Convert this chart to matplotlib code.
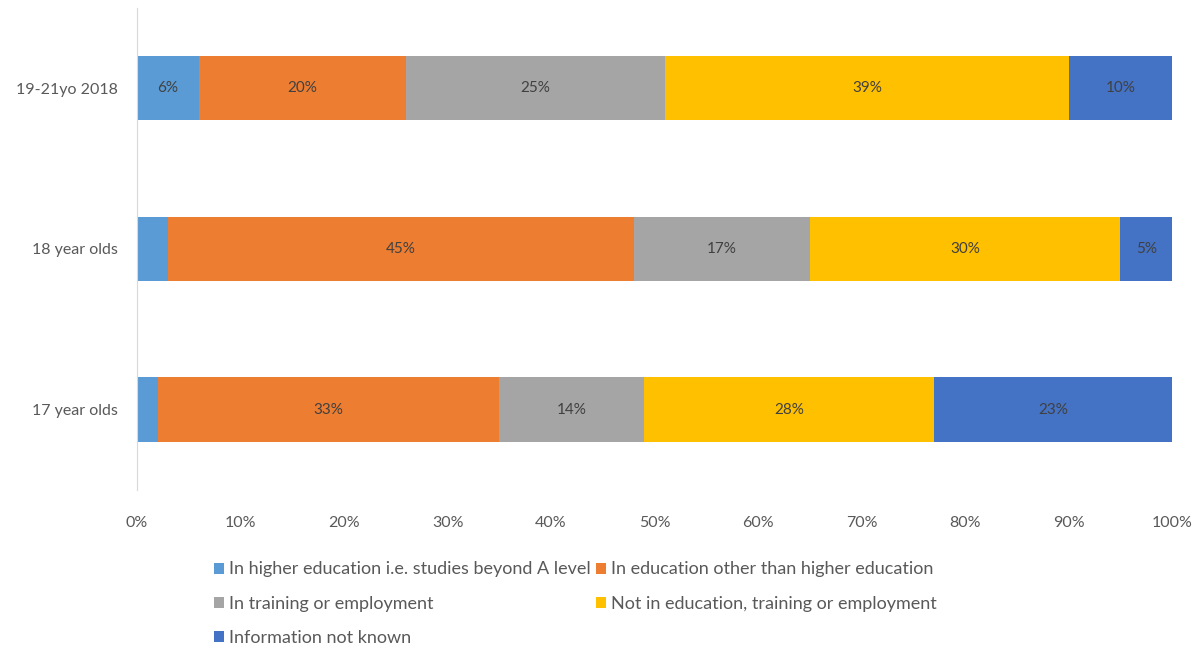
import numpy as np
import matplotlib.pyplot as plt

plt.rcParams["font.family"] = ["Lato", "DejaVu Sans"]

# ---------------- data ----------------
groups = ["17 year olds", "18 year olds", "19-21yo 2018"]
series = [
    "In higher education i.e. studies beyond A level",
    "In education other than higher education",
    "In training or employment",
    "Not in education, training or employment",
    "Information not known",
]
higher_ed = [2, 3, 6]
other_ed = [33, 45, 20]
training = [14, 17, 25]
neet = [28, 30, 39]
not_known = [23, 5, 10]
xticks = [0, 10, 20, 30, 40, 50, 60, 70, 80, 90, 100]

colors = ["#5B9BD5", "#ED7D31", "#A5A5A5", "#FFC000", "#4472C4"]
values = [higher_ed, other_ed, training, neet, not_known]

# ---------------- plot ----------------
fig = plt.figure(figsize=(12.03, 6.49), dpi=100)
ax = fig.add_axes([0.1139, 0.245, 0.8605, 0.743])

y = np.arange(len(groups))
left = np.zeros(len(groups))
handles = []
for name, vals, col in zip(series, values, colors):
    vals = np.array(vals, dtype=float)
    bars = ax.barh(y, vals, left=left, height=0.4, color=col, label=name)
    handles.append(bars)
    for yi, l, v in zip(y, left, vals):
        if v > 3:
            ax.text(l + v / 2, yi, f"{int(v)}%", ha="center", va="center",
                    fontsize=11, color="#404040")
    left += vals

ax.set_xlim(0, 100)
ax.set_ylim(-0.5, 2.5)
ax.set_yticks(y)
ax.set_yticklabels(groups, fontsize=11.5, color="#595959")
ax.set_xticks(xticks)
ax.set_xticklabels([f"{t}%" for t in xticks], fontsize=11.5, color="#595959")
ax.tick_params(axis="both", length=0)
ax.tick_params(axis="x", pad=19)
ax.tick_params(axis="y", pad=14)
for s in ["top", "right", "bottom"]:
    ax.spines[s].set_visible(False)
ax.spines["left"].set_color("#D9D9D9")

# legend: column-first order so it reads row-wise like the original
order = [0, 2, 4, 1, 3]
fig.legend([handles[i] for i in order], [series[i] for i in order],
           ncol=2, loc="upper left", bbox_to_anchor=(0.172, 0.146),
           frameon=False, fontsize=13, handlelength=0.55, handleheight=0.55,
           handletextpad=0.3, columnspacing=0.25, labelspacing=1.0,
           labelcolor="#595959", borderaxespad=0)

fig.savefig("out.png", dpi=100)
